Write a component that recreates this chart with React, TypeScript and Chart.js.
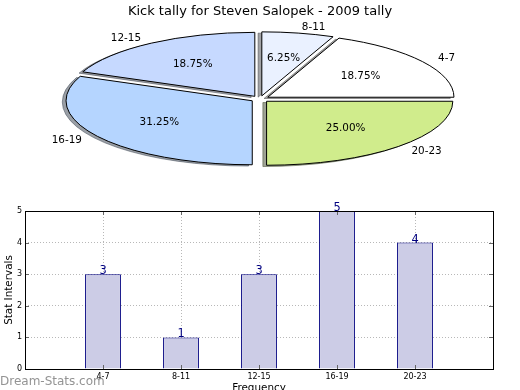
import React, { useEffect, useRef } from 'react';
import { Chart, registerables } from 'chart.js';

Chart.register(...registerables);

// ---------- data ----------
const chartTitle = 'Kick tally for Steven Salopek - 2009 tally';
const categories = ['4-7', '8-11', '12-15', '16-19', '20-23'];
const counts = [3, 1, 3, 5, 4];
const sliceColors = ['#ffffff', '#eaf1ff', '#c6d9ff', '#b5d5ff', '#d0ec8c'];
const yTickValues = [0, 1, 2, 3, 4, 5];
const yAxisTitle = 'Stat Intervals';
const xAxisTitle = 'Frequency';
const watermark = 'Dream-Stats.com';

// ---------- style ----------
const FONT = "'DejaVu Sans', 'Liberation Sans', sans-serif";
const SX = 2.91; // horizontal stretch of the pie (ellipse)
const EXPLODE = 0.05; // fraction of radius
const SHADOW = 0.02; // fraction of radius
const PCT_DIST = 0.6;
const LABEL_DIST = 1.1;

// pie order: matplotlib goes counter-clockwise from 3 o'clock; Chart.js goes clockwise
const pieLabels = [...categories].reverse();
const pieValues = [...counts].reverse();
const pieColors = [...sliceColors].reverse();

function hexToRgb(h: string) {
  const n = parseInt(h.slice(1), 16);
  return [(n >> 16) & 255, (n >> 8) & 255, n & 255];
}
function shadowColor(h: string) {
  const [r, g, b] = hexToRgb(h);
  return `rgba(${Math.round(r * 0.3)},${Math.round(g * 0.3)},${Math.round(b * 0.3)},0.5)`;
}

function stretch(ctx: CanvasRenderingContext2D, c: { x: number; y: number }) {
  ctx.translate(c.x, c.y);
  ctx.scale(SX, 1);
  ctx.translate(-c.x, -c.y);
}
function wedgePath(ctx: CanvasRenderingContext2D, a: any) {
  ctx.moveTo(a.x, a.y);
  ctx.arc(a.x, a.y, a.outerRadius, a.startAngle, a.endAngle);
  ctx.closePath();
}

const ellipsePie = {
  id: 'ellipsePie',
  afterDatasetUpdate(chart: any, args: any) {
    const arcs = args.meta.data;
    if (!arcs.length) return;
    chart.$center = { x: arcs[0].x, y: arcs[0].y };
    for (const a of arcs) {
      const m = (a.startAngle + a.endAngle) / 2;
      const e = EXPLODE * a.outerRadius;
      a.x += Math.cos(m) * e;
      a.y += Math.sin(m) * e;
    }
  },
  beforeDatasetsDraw(chart: any) {
    const ctx = chart.ctx as CanvasRenderingContext2D;
    const c = chart.$center;
    const arcs = chart.getDatasetMeta(0).data;
    arcs.forEach((a: any, i: number) => {
      const r = a.outerRadius;
      ctx.save();
      stretch(ctx, c);
      ctx.translate(-SHADOW * r, SHADOW * r);
      ctx.beginPath();
      wedgePath(ctx, a);
      ctx.restore();
      ctx.save();
      ctx.fillStyle = shadowColor(pieColors[i]);
      ctx.strokeStyle = shadowColor(pieColors[i]);
      ctx.lineWidth = 1;
      ctx.fill();
      ctx.stroke();
      ctx.restore();
    });
    ctx.save();
    stretch(ctx, c);
  },
  afterDatasetsDraw(chart: any) {
    const ctx = chart.ctx as CanvasRenderingContext2D;
    ctx.restore();
    const c = chart.$center;
    const arcs = chart.getDatasetMeta(0).data;
    const total = pieValues.reduce((s, v) => s + v, 0);
    arcs.forEach((a: any) => {
      ctx.save();
      stretch(ctx, c);
      ctx.beginPath();
      wedgePath(ctx, a);
      ctx.restore();
      ctx.save();
      ctx.lineWidth = 1;
      ctx.strokeStyle = '#000';
      ctx.lineJoin = 'round';
      ctx.stroke();
      ctx.restore();
    });
    ctx.save();
    ctx.fillStyle = '#000';
    ctx.font = `10.4px ${FONT}`;
    ctx.textBaseline = 'middle';
    arcs.forEach((a: any, i: number) => {
      const m = (a.startAngle + a.endAngle) / 2;
      const r = a.outerRadius;
      const bx = c.x + (a.x - c.x) * SX;
      const by = a.y;
      ctx.textAlign = 'center';
      const pct = ((pieValues[i] / total) * 100).toFixed(2) + '%';
      ctx.fillText(pct, bx + Math.cos(m) * PCT_DIST * r * SX, by + Math.sin(m) * PCT_DIST * r);
      ctx.textAlign = Math.cos(m) > 0 ? 'left' : 'right';
      ctx.fillText(chart.data.labels[i], bx + Math.cos(m) * LABEL_DIST * r * SX, by + Math.sin(m) * LABEL_DIST * r);
    });
    ctx.restore();
  },
};

const barDecor = {
  id: 'barDecor',
  beforeDatasetsDraw(chart: any) {
    const ctx = chart.ctx as CanvasRenderingContext2D;
    ctx.save();
    ctx.font = `12px ${FONT}`;
    ctx.fillStyle = 'rgba(120,120,120,0.8)';
    ctx.textAlign = 'left';
    ctx.textBaseline = 'alphabetic';
    ctx.fillText(watermark, 0, 190);
    ctx.restore();
  },
  afterDatasetsDraw(chart: any) {
    const ctx = chart.ctx as CanvasRenderingContext2D;
    const meta = chart.getDatasetMeta(0);
    ctx.save();
    ctx.font = `11.4px ${FONT}`;
    ctx.fillStyle = '#000080';
    ctx.textAlign = 'center';
    ctx.textBaseline = 'alphabetic';
    meta.data.forEach((bar: any, i: number) => {
      ctx.fillText(String(counts[i]), bar.x, bar.y);
    });
    ctx.restore();
  },
  afterDraw(chart: any) {
    const ctx = chart.ctx as CanvasRenderingContext2D;
    const { left, right, top, bottom } = chart.chartArea;
    ctx.save();
    ctx.strokeStyle = '#666';
    ctx.lineWidth = 1;
    const xs = chart.scales.x;
    const ys = chart.scales.y;
    ctx.beginPath();
    yTickValues.forEach((v) => {
      const p = Math.round(ys.getPixelForValue(v)) + 0.5;
      ctx.moveTo(left, p);
      ctx.lineTo(left + 4, p);
      ctx.moveTo(right - 4, p);
      ctx.lineTo(right, p);
    });
    categories.forEach((_, i) => {
      const p = Math.round(xs.getPixelForValue(i + 1)) + 0.5;
      ctx.moveTo(p, bottom);
      ctx.lineTo(p, bottom - 4);
      ctx.moveTo(p, top);
      ctx.lineTo(p, top + 4);
    });
    ctx.stroke();
    ctx.strokeStyle = '#000';
    ctx.strokeRect(left + 0.5, top + 0.5, right - left, bottom - top);
    ctx.restore();
  },
};

export default function App() {
  const pieRef = useRef<HTMLCanvasElement>(null);
  const barRef = useRef<HTMLCanvasElement>(null);

  useEffect(() => {
    const pie = new Chart(pieRef.current as HTMLCanvasElement, {
      type: 'pie',
      data: {
        labels: pieLabels,
        datasets: [
          {
            data: pieValues,
            backgroundColor: pieColors,
            borderWidth: 0,
            clip: false,
          } as any,
        ],
      },
      options: {
        responsive: false,
        animation: false,
        rotation: 90,
        radius: 64,
        layout: { padding: { top: 0, bottom: 20.6, left: 0, right: 0 } },
        plugins: {
          legend: { display: false },
          tooltip: { enabled: false },
          title: {
            display: true,
            text: chartTitle,
            color: '#000',
            font: { family: FONT, size: 13, weight: 'normal' },
            padding: { top: 3.6, bottom: 1.4 },
          },
        },
      } as any,
      plugins: [ellipsePie],
    });

    const bar = new Chart(barRef.current as HTMLCanvasElement, {
      type: 'bar',
      data: {
        datasets: [
          {
            data: categories.map((c, i) => ({ x: i + 1, y: counts[i] })),
            backgroundColor: '#ccccE6',
            borderColor: '#000080',
            borderWidth: 1,
            barPercentage: 0.46,
            categoryPercentage: 1,
          } as any,
        ],
      },
      options: {
        responsive: false,
        animation: false,
        layout: { padding: { left: 0, right: 27, top: 16, bottom: 0 } },
        plugins: {
          legend: { display: false },
          tooltip: { enabled: false },
        },
        scales: {
          x: {
            type: 'linear',
            min: 0,
            max: categories.length + 1,
            offset: false,
            z: 1,
            ticks: {
              stepSize: 1,
              autoSkip: false,
              maxRotation: 0,
              padding: 3,
              color: '#000',
              font: { family: FONT, size: 8 },
              callback: (v: any) => categories[Number(v) - 1] ?? '',
            },
            grid: { color: '#b8b8b8', drawTicks: false, offset: false },
            border: { display: false, dash: [1, 2] },
            title: {
              display: true,
              text: xAxisTitle,
              color: '#000',
              font: { family: FONT, size: 10.4 },
              padding: { top: 0, bottom: 10 },
            },
            afterFit: (s: any) => {
              s.height = 36;
            },
          },
          y: {
            min: 0,
            max: 5,
            z: 1,
            ticks: {
              padding: 3,
              color: '#000',
              font: { family: FONT, size: 8 },
            },
            afterBuildTicks: (s: any) => {
              s.ticks = yTickValues.map((v) => ({ value: v }));
            },
            grid: { color: '#b8b8b8', drawTicks: false },
            border: { display: false, dash: [1, 2] },
            title: {
              display: true,
              text: yAxisTitle,
              color: '#000',
              font: { family: FONT, size: 10.4 },
              padding: { top: 3, bottom: 0 },
            },
            afterFit: (s: any) => {
              s.width = 25;
            },
          },
        },
      } as any,
      plugins: [barDecor],
    });

    return () => {
      pie.destroy();
      bar.destroy();
    };
  }, []);

  return (
    <div
      style={{
        position: 'fixed',
        left: 0,
        top: 0,
        width: 520,
        height: 390,
        overflow: 'hidden',
        background: '#fff',
      }}
    >
      <canvas
        ref={barRef}
        width={520}
        height={210}
        style={{ position: 'absolute', left: 0, top: 195, width: 520, height: 210 }}
      />
      <canvas
        ref={pieRef}
        width={520}
        height={198}
        style={{ position: 'absolute', left: 0, top: 0, width: 520, height: 198 }}
      />
    </div>
  );
}
